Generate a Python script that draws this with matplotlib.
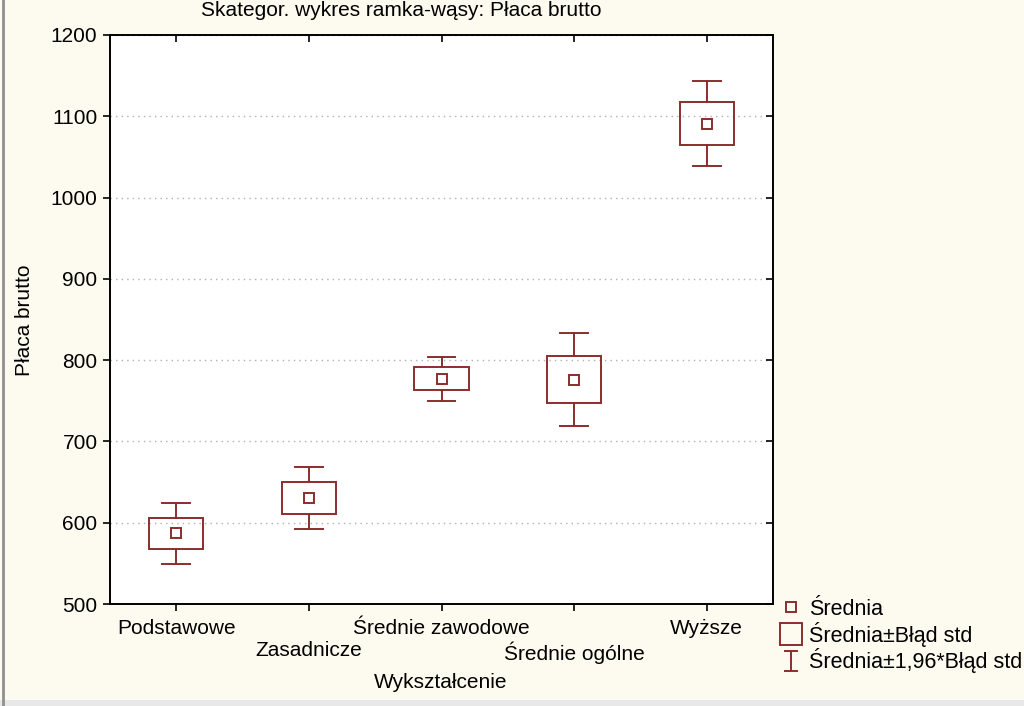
import matplotlib
matplotlib.use("Agg")
import matplotlib.pyplot as plt
import matplotlib.transforms as mtransforms
from matplotlib.lines import Line2D
from matplotlib.path import Path
from matplotlib.patches import Rectangle
import numpy as np

plt.rcParams['font.family'] = ['Liberation Sans', 'DejaVu Sans']

categories = ["Podstawowe", "Zasadnicze", "Średnie zawodowe", "Średnie ogólne", "Wyższe"]
means = [587, 630, 777, 776, 1091]
std_err = [19, 19.5, 14, 29, 26.5]
y_ticks = [500, 600, 700, 800, 900, 1000, 1100, 1200]

title = "Skategor. wykres ramka-wąsy: Płaca brutto"
x_label = "Wykształcenie"
y_label = "Płaca brutto"
legend_labels = ["Średnia", "Średnia±Błąd std", "Średnia±1,96*Błąd std"]

color = "#8c2d2d"
bg = "#fdfbef"

fig = plt.figure(figsize=(10.24, 7.06), dpi=100, facecolor=bg)
ax = fig.add_axes([110/1024, 1-604/706, (773-110)/1024, (604-35)/706])
ax.set_facecolor("white")

box_w = 0.41
cap_w = 0.21
for i, (m, se) in enumerate(zip(means, std_err)):
    lo, hi = m - se, m + se
    wlo, whi = m - 1.96*se, m + 1.96*se
    ax.add_patch(Rectangle((i - box_w/2, lo), box_w, hi - lo, fill=False,
                           edgecolor=color, lw=1.4, zorder=3))
    ax.plot([i, i], [hi, whi], color=color, lw=1.4, zorder=3)
    ax.plot([i, i], [lo, wlo], color=color, lw=1.4, zorder=3)
    ax.plot([i - cap_w/2, i + cap_w/2], [whi, whi], color=color, lw=1.4, zorder=3)
    ax.plot([i - cap_w/2, i + cap_w/2], [wlo, wlo], color=color, lw=1.4, zorder=3)
    ax.plot([i], [m], marker='s', ms=7, mfc='none', mec=color, mew=1.4, zorder=4)

ax.set_xlim(-0.5, len(categories) - 0.5)
ax.set_ylim(y_ticks[0], y_ticks[-1])
ax.set_yticks(y_ticks)
ax.set_xticks(range(len(categories)))
ax.set_xticklabels(categories, fontsize=15)
ax.tick_params(axis='y', labelsize=15, direction='out', length=5, pad=4, right=True)
ax.tick_params(axis='x', direction='out', length=5, pad=6, top=True)
ax.tick_params(axis='both', which='both', width=1.2)
for t in ax.xaxis.get_major_ticks():
    t.tick2line.set_marker(3)  # inward at top
for t in ax.yaxis.get_major_ticks():
    t.tick2line.set_marker(0)
for s in ax.spines.values():
    s.set_linewidth(1.4)
    s.set_color("black")
ax.grid(axis='y', linestyle=(0, (1, 3)), color='#b0b0b0', lw=1)
ax.set_axisbelow(True)

offset = mtransforms.ScaledTranslation(0, -22/100, fig.dpi_scale_trans)
for i, lab in enumerate(ax.get_xticklabels()):
    if i % 2 == 1:
        lab.set_transform(lab.get_transform() + offset)

fig.text(441/1024, 1-683/706, x_label, fontsize=15, ha='center', va='center')
fig.text(25/1024, 1-320/706, y_label, fontsize=15, ha='center', va='center', rotation=90)
fig.text(401/1024, 1-11/706, title, fontsize=15, ha='center', va='center',
         family=['Liberation Sans Narrow', 'Liberation Sans'])

ivert = [(-0.35, 0.5), (0.35, 0.5), (0, 0.5), (0, -0.5), (-0.35, -0.5), (0.35, -0.5)]
icodes = [Path.MOVETO, Path.LINETO, Path.MOVETO, Path.LINETO, Path.MOVETO, Path.LINETO]
ipath = Path(ivert, icodes)
handles = [
    Line2D([], [], ls='none', marker='s', ms=7, mfc='none', mec=color, mew=1.4),
    Line2D([], [], ls='none', marker='s', ms=16, mfc='none', mec=color, mew=1.4),
    Line2D([], [], ls='none', marker=ipath, ms=15, mfc='none', mec=color, mew=1.4),
]
fig.legend(handles, legend_labels, loc='upper left', bbox_to_anchor=(780/1024, 1-599/706),
           frameon=False, fontsize=15.5, handlelength=1.0, handletextpad=0.35,
           labelspacing=0.08, borderpad=0, borderaxespad=0)

# window-like borders
fig.add_artist(Line2D([3/1024, 3/1024], [0, 1], color='#909090', lw=2, transform=fig.transFigure))
fig.add_artist(Rectangle((0, 0), 1, 6/706, transform=fig.transFigure, color='#e8e8e8', lw=0))

fig.savefig("out.png", dpi=100, facecolor=bg)
